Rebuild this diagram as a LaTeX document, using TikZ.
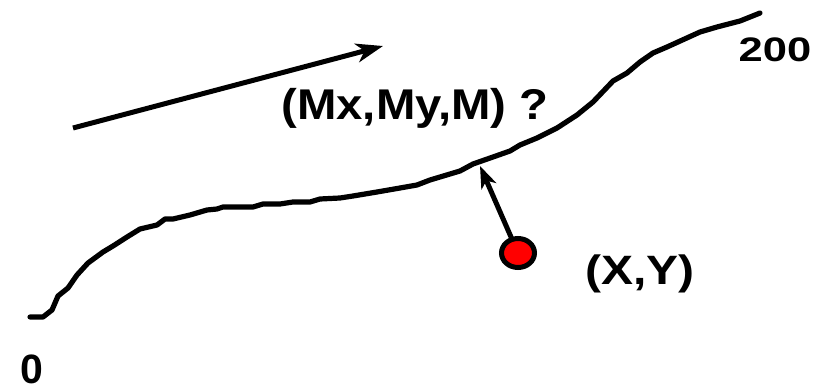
\documentclass[tikz,border=0pt]{standalone}
\usepackage{fontspec}
\setmainfont{Liberation Sans}
\usetikzlibrary{arrows.meta,shapes.geometric}
\tikzset{
  curveline/.style={line width=5.2pt,line join=round,line cap=round},
  arrowline/.style={line width=5pt,-{Stealth[length=27pt,width=19pt,inset=8pt]}},
  smallarrow/.style={line width=5pt,-{Stealth[length=22pt,width=16pt,inset=6pt]}},
  lbl/.style={inner sep=0pt,anchor=base},
  reddot/.style={ellipse,draw=black,line width=5pt,fill=red,minimum width=33pt,minimum height=29pt,inner sep=0pt}
}
\begin{document}
\begin{tikzpicture}[x=1pt,y=-1pt]
\useasboundingbox (0,0) rectangle (829,390);
% curve
\draw[curveline] (30,317) -- (43,317) -- (52,310) -- (58,296) -- (68,288) -- (77,275) -- (88,263) -- (103,252) -- (113,246) -- (127,237) -- (140,229) -- (157,225) -- (165,219) -- (173,219) -- (190,215) -- (207,210) -- (217,209) -- (223,207) -- (253,207) -- (263,204) -- (280,204) -- (293,202) -- (310,202) -- (320,199) -- (340,198) -- (353,196) -- (377,192) -- (400,188) -- (417,185) -- (430,180) -- (450,174) -- (460,171) -- (473,164) -- (493,157) -- (510,151) -- (520,145) -- (537,138) -- (557,128) -- (577,115) -- (593,102) -- (613,81) -- (627,73) -- (640,62) -- (653,53) -- (667,47) -- (700,32) -- (717,27) -- (740,21) -- (760,13);
% direction arrow
\coordinate (a0) at (73,128);
\coordinate (a1) at (383,46);
\draw[arrowline] (a0) -- (a1);
% point and arrow to curve
\coordinate (pc) at (518,253);
\coordinate (foot) at (480,166);
\draw[smallarrow] (pc) -- (foot);
\node[reddot] (p) at (pc) {};
% labels
\node[lbl,font=\bfseries\fontsize{43}{43}\selectfont] (m) at (415,120) {\scalebox{1.1}[1]{(Mx,My,M) ?}};
\node[lbl,font=\bfseries\fontsize{41}{41}\selectfont] (xy) at (640,284) {\scalebox{1.17}[1]{(X,Y)}};
\node[lbl,font=\bfseries\fontsize{34}{34}\selectfont] (n200) at (775,62) {\scalebox{1.28}[1]{200}};
\node[lbl,font=\bfseries\fontsize{41}{41}\selectfont] (n0) at (32,383) {0};
\end{tikzpicture}
\end{document}
